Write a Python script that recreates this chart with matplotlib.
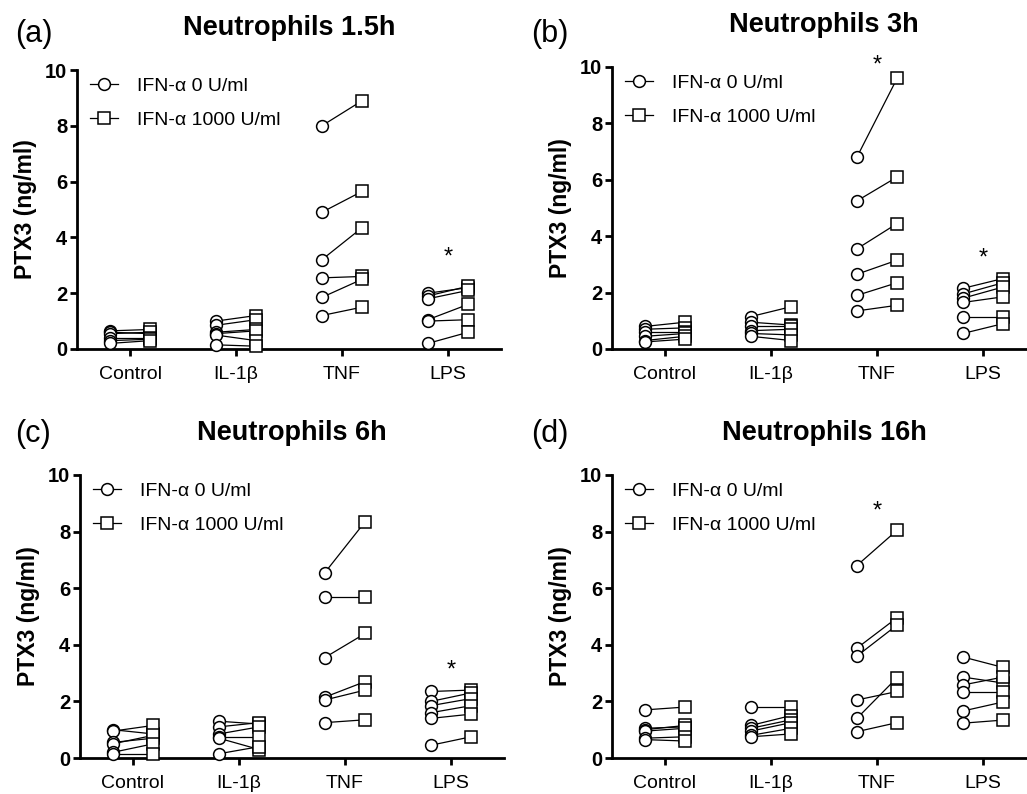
import matplotlib
matplotlib.use("Agg")
import matplotlib.pyplot as plt
from matplotlib.lines import Line2D

plt.rcParams['font.family'] = ['Liberation Sans', 'DejaVu Sans']

categories = ['Control', 'IL-1β', 'TNF', 'LPS']
legend_labels = ['IFN-α 0 U/ml', 'IFN-α 1000 U/ml']

# values per category (Control, IL-1b, TNF, LPS); index i of ifn0 pairs with index i of ifn1000
a_ifn0 = [[0.65, 0.6, 0.55, 0.4, 0.3, 0.2],
          [1.0, 0.85, 0.6, 0.55, 0.5, 0.15],
          [8.0, 4.9, 3.2, 2.55, 1.85, 1.2],
          [2.0, 1.9, 1.8, 1.05, 1.0, 0.2]]
a_ifn1000 = [[0.7, 0.55, 0.6, 0.4, 0.35, 0.3],
             [1.2, 1.05, 0.7, 0.65, 0.3, 0.1],
             [8.9, 5.65, 4.35, 2.6, 2.5, 1.5],
             [2.2, 2.25, 2.1, 1.6, 1.05, 0.6]]

b_ifn0 = [[0.8, 0.7, 0.6, 0.45, 0.3, 0.25],
          [1.15, 0.95, 0.8, 0.65, 0.55, 0.45],
          [6.8, 5.25, 3.55, 2.65, 1.9, 1.35],
          [2.15, 1.95, 1.8, 1.65, 1.15, 0.55]]
b_ifn1000 = [[0.95, 0.75, 0.6, 0.55, 0.45, 0.35],
             [1.5, 0.85, 0.8, 0.7, 0.5, 0.3],
             [9.6, 6.1, 4.45, 3.15, 2.35, 1.55],
             [2.5, 2.35, 2.2, 1.85, 1.15, 0.9]]

c_ifn0 = [[1.0, 0.95, 0.55, 0.5, 0.2, 0.15],
          [1.3, 1.1, 0.85, 0.75, 0.7, 0.15],
          [6.55, 5.7, 3.55, 2.15, 2.05, 1.25],
          [2.35, 2.0, 1.85, 1.6, 1.4, 0.45]]
c_ifn1000 = [[0.85, 1.15, 0.7, 0.8, 0.5, 0.15],
             [1.2, 1.25, 1.1, 0.75, 0.3, 0.4],
             [8.35, 5.7, 4.4, 2.7, 2.4, 1.35],
             [2.4, 2.3, 2.1, 1.85, 1.55, 0.75]]

d_ifn0 = [[1.7, 1.05, 1.0, 0.95, 0.7, 0.65],
          [1.8, 1.15, 1.05, 0.95, 0.8, 0.75],
          [6.8, 3.88, 3.6, 2.05, 1.4, 0.93],
          [3.57, 2.86, 2.58, 2.34, 1.66, 1.23]]
d_ifn1000 = [[1.8, 1.1, 1.15, 1.05, 0.75, 0.6],
             [1.8, 1.5, 1.35, 1.25, 1.05, 0.85],
             [8.05, 4.96, 4.7, 2.35, 2.84, 1.25],
             [3.2, 2.65, 2.86, 2.34, 1.98, 1.34]]

# significance stars: (category index, height)
a_stars = [(3, 3.27)]
b_stars = [(2, 10.05), (3, 3.2)]
c_stars = [(3, 3.1)]
d_stars = [(2, 8.7)]

titles = ['Neutrophils 1.5h', 'Neutrophils 3h', 'Neutrophils 6h', 'Neutrophils 16h']
panel_tags = ['(a)', '(b)', '(c)', '(d)']

W, H = 1027, 794
fig = plt.figure(figsize=(W / 100, H / 100), dpi=100)


def px_axes(left, right, top, bottom):
    return fig.add_axes([left / W, 1 - bottom / H, (right - left) / W, (bottom - top) / H])


def draw_panel(ax, ifn0, ifn1000, stars, title):
    off = 0.19
    for ci in range(len(categories)):
        for y0, y1 in zip(ifn0[ci], ifn1000[ci]):
            ax.plot([ci - off, ci + off], [y0, y1], color='black', lw=0.9, zorder=2)
        ax.plot([ci - off] * len(ifn0[ci]), ifn0[ci], linestyle='none', marker='o', ms=8.5,
                mfc='white', mec='black', mew=1.1, zorder=3, clip_on=False)
        ax.plot([ci + off] * len(ifn1000[ci]), ifn1000[ci], linestyle='none', marker='s', ms=8.3,
                mfc='white', mec='black', mew=1.1, zorder=3, clip_on=False)
    for ci, h in stars:
        ax.text(ci, h, '*', ha='center', va='center', fontsize=17, clip_on=False)

    ax.set_xlim(-0.5, 3.5)
    ax.set_ylim(0, 10)
    ax.set_xticks(range(len(categories)))
    ax.set_xticklabels(categories, fontsize=14)
    ax.set_yticks([0, 2, 4, 6, 8, 10])
    for lab in ax.get_yticklabels():
        lab.set_fontweight('bold')
        lab.set_fontsize(14.5)
    ax.tick_params(width=2, length=5)
    ax.tick_params(axis='x', pad=7)
    ax.tick_params(axis='y', pad=2)
    for s in ['top', 'right']:
        ax.spines[s].set_visible(False)
    for s in ['left', 'bottom']:
        ax.spines[s].set_linewidth(2)
    ax.set_ylabel('PTX3 (ng/ml)', fontsize=16.5, fontweight='bold', labelpad=6)
    ax.set_title(title, fontsize=19.5, fontweight='bold', pad=25)

    handles = [Line2D([], [], color='black', lw=0.9, marker='o', ms=8.5, mfc='white', mew=1.1),
               Line2D([], [], color='black', lw=0.9, marker='s', ms=8.3, mfc='white', mew=1.1)]
    ax.legend(handles, legend_labels, loc='upper left', bbox_to_anchor=(0.03, 0.975),
              frameon=False, fontsize=14, handlelength=1.45, handletextpad=1.0,
              labelspacing=0.85, borderpad=0, borderaxespad=0)


ax_a = px_axes(77, 501, 70, 349)
ax_b = px_axes(612, 1036, 67, 349)
ax_c = px_axes(80, 504, 475, 758)
ax_d = px_axes(612, 1036, 475, 758)

draw_panel(ax_a, a_ifn0, a_ifn1000, a_stars, titles[0])
draw_panel(ax_b, b_ifn0, b_ifn1000, b_stars, titles[1])
draw_panel(ax_c, c_ifn0, c_ifn1000, c_stars, titles[2])
draw_panel(ax_d, d_ifn0, d_ifn1000, d_stars, titles[3])

for tag, (x, y) in zip(panel_tags, [(15, 42), (531, 42), (15, 442), (531, 442)]):
    fig.text(x / W, 1 - y / H, tag, fontsize=22, va='baseline', ha='left')

fig.savefig('out.png', dpi=100)
